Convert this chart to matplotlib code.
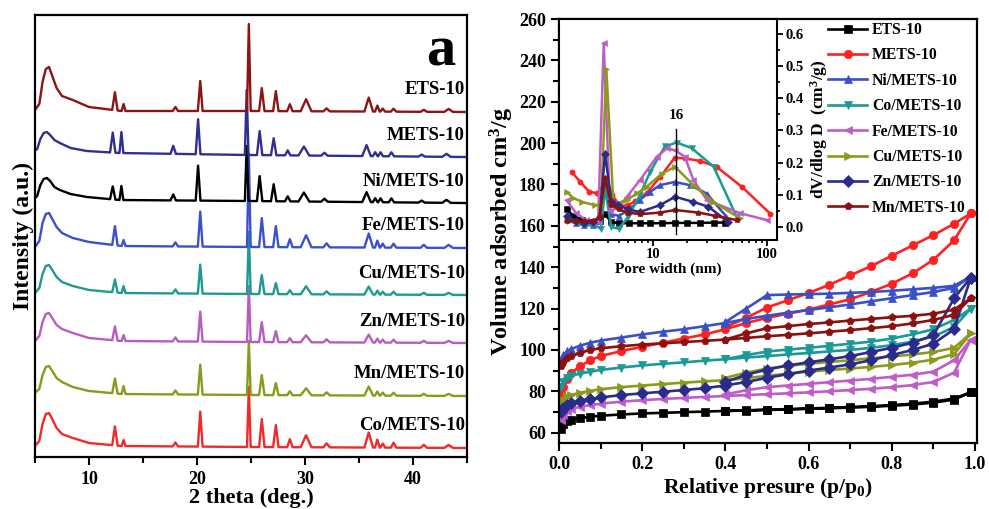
import numpy as np
import matplotlib
matplotlib.use('Agg')
import matplotlib.pyplot as plt
from matplotlib.ticker import MultipleLocator, LogLocator, NullFormatter, FixedLocator

plt.rcParams['font.family'] = 'Liberation Serif'
plt.rcParams['font.weight'] = 'bold'
plt.rcParams['axes.labelweight'] = 'bold'
plt.rcParams['mathtext.fontset'] = 'custom'
plt.rcParams['mathtext.rm'] = 'Liberation Serif:bold'
plt.rcParams['mathtext.it'] = 'Liberation Serif:bold:italic'
plt.rcParams['mathtext.bf'] = 'Liberation Serif:bold'

# ---------------- (a) XRD patterns ----------------
xrd_names = ['ETS-10', 'METS-10', 'Ni/METS-10', 'Fe/METS-10',
             'Cu/METS-10', 'Zn/METS-10', 'Mn/METS-10', 'Co/METS-10']
xrd_colors = ['#8b1515', '#2f2f8f', '#000000', '#3b50cc',
              '#1f9a92', '#b85cc0', '#8b9a1f', '#f02a2a']
xrd_offset = [345, 300, 254, 209, 162, 114, 61, 9]
xrd_shift = [0, -0.2, -0.2, 0, 0, 0, 0, 0]

# background (low-angle peak + tail), intensity above baseline
two_theta_bg = [5.0, 5.4, 5.7, 6.0, 6.3, 6.6, 7.0, 7.5, 8.5, 10.0, 13.0, 25.0, 45.0]
bg_ets = [2, 8, 30, 43, 45, 36, 24, 16, 12, 5, 1, 1, 0]
bg_mets = [5, 8, 18, 24, 25, 22, 17, 14, 9, 6, 4, 2, 0]
bg_ni = [3, 7, 18, 24, 25, 22, 16, 13, 9, 6, 3, 2, 0]
bg_fe = [1, 7, 25, 34, 35, 29, 21, 15, 10, 6, 2, 1, 0]
bg_cu = [2, 7, 21, 29, 30, 25, 18, 13, 9, 5, 2, 1, 0]
bg_zn = [2, 7, 21, 29, 30, 25, 18, 14, 10, 5, 2, 1, 0]
bg_mn = [3, 7, 21, 29, 30, 25, 18, 14, 9, 5, 2, 1, 0]
bg_co = [2, 7, 24, 34, 35, 29, 20, 14, 10, 5, 2, 1, 0]

# sharp reflections
peak_pos = [12.4, 13.2, 18.0, 20.3, 24.8, 26.0, 27.3, 28.6, 30.1, 32.0,
            35.9, 36.7, 37.2, 38.2, 41.0, 43.3]
peak_hw = [0.25, 0.18, 0.25, 0.22, 0.17, 0.25, 0.25, 0.25, 0.5, 0.3,
           0.4, 0.22, 0.22, 0.25, 0.3, 0.4]
h_ets = [18, 7, 4, 30, 87, 23, 20, 7, 12, 3, 14, 6, 3, 3, 2, 3]
h_mets = [20, 21, 8, 35, 65, 24, 17, 5, 9, 3, 11, 4, 4, 4, 2, 3]
h_ni = [13, 14, 6, 35, 55, 25, 17, 5, 9, 3, 10, 4, 4, 4, 2, 3]
h_fe = [19, 6, 4, 35, 93, 29, 21, 8, 12, 4, 14, 7, 4, 4, 3, 3]
h_cu = [13, 7, 4, 29, 62, 19, 11, 4, 8, 3, 8, 4, 3, 3, 2, 2]
h_zn = [14, 6, 4, 30, 56, 20, 11, 4, 7, 3, 8, 4, 3, 3, 2, 2]
h_mn = [15, 8, 4, 30, 54, 20, 12, 4, 7, 3, 9, 4, 3, 3, 2, 2]
h_co = [19, 6, 4, 35, 60, 28, 22, 8, 12, 4, 15, 8, 4, 5, 3, 3]

xrd_bg = [bg_ets, bg_mets, bg_ni, bg_fe, bg_cu, bg_zn, bg_mn, bg_co]
xrd_h = [h_ets, h_mets, h_ni, h_fe, h_cu, h_zn, h_mn, h_co]

# ---------------- (b) N2 isotherms ----------------
iso_names = ['ETS-10', 'METS-10', 'Ni/METS-10', 'Co/METS-10',
             'Fe/METS-10', 'Cu/METS-10', 'Zn/METS-10', 'Mn/METS-10']
iso_colors = ['#000000', '#ff2020', '#3a50c8', '#1a9a96',
              '#c05cc8', '#8b9a1a', '#2b2b8c', '#8b1010']
iso_markers = ['s', 'o', '^', 'v', '<', '>', 'D', 'p']

p_ads = [0.005, 0.01, 0.02, 0.03, 0.05, 0.075, 0.1, 0.15, 0.2, 0.25, 0.3, 0.35,
         0.4, 0.45, 0.5, 0.55, 0.6, 0.65, 0.7, 0.75, 0.8, 0.85, 0.9, 0.95, 0.99]
p_des = [0.99, 0.95, 0.9, 0.85, 0.8, 0.75, 0.7, 0.65, 0.6, 0.55, 0.5, 0.45, 0.4]

ads_ets = [62, 64, 65.5, 66.3, 67, 67.7, 68.2, 68.8, 69.3, 69.6, 69.9, 70.2, 70.5,
           70.7, 71, 71.2, 71.5, 71.8, 72.1, 72.5, 73, 73.6, 74.5, 76, 79.5]
des_ets = [79.5, 76.5, 75, 74, 73.3, 72.8, 72.4, 72, 71.7, 71.4, 71.1, 70.8, 70.5]
ads_mets = [79, 82, 86, 89, 92, 95, 97, 99.5, 101.5, 103.5, 105.5, 107.5, 110,
            113, 115.5, 117.5, 119.5, 122, 124.5, 128, 132, 137, 143.5, 153, 166]
des_mets = [166, 161, 155.5, 150.5, 145.5, 140.5, 136, 131.5, 127.5, 124, 120.5, 115.5, 111]
ads_ni = [95, 97.5, 99.5, 100.5, 102, 103.5, 104.5, 106, 107.5, 108.8, 110, 111.5, 113,
          115, 116.5, 118, 119.3, 120.6, 122, 123.5, 125, 126.5, 128, 130, 135.5]
des_ni = [135.5, 131, 130, 129.3, 128.6, 128, 127.6, 127.2, 127, 126.8, 126.5, 120, 113.5]
ads_co = [82, 84.5, 86.5, 87.5, 88.5, 89.5, 90.3, 91.5, 92.5, 93.3, 94, 94.8, 95.5,
          96.3, 97, 97.8, 98.5, 99.3, 100, 101, 102.3, 104, 106.5, 111, 120]
des_co = [120, 114.5, 110, 107.5, 105.5, 104, 103, 102, 101, 100.2, 99.2, 97.5, 95.5]
ads_fe = [66, 68.5, 70.5, 71.5, 72.5, 73.3, 74, 75, 75.7, 76.3, 76.8, 77.3, 77.7,
          78.2, 78.6, 79, 79.5, 80, 80.6, 81.2, 82, 83, 84.5, 89, 105]
des_fe = [105, 95, 89.5, 88, 87, 86, 85.2, 84.4, 83.6, 82.8, 82, 80.5, 78.5]
ads_cu = [74, 76, 77.5, 78.3, 79.3, 80.2, 81, 82, 82.8, 83.5, 84.2, 84.8, 85.4,
          86.3, 87.5, 88.5, 89.5, 90.3, 91, 91.8, 92.7, 93.8, 95.3, 98, 108]
des_cu = [108, 101, 99, 97.8, 96.8, 96, 95, 94.2, 93.3, 92.3, 91, 89, 86.5]
ads_zn = [70, 72, 73.5, 74.5, 75.5, 76.3, 77, 78.2, 79, 79.8, 80.6, 81.5, 82.8,
          84.5, 86.5, 88.3, 90, 91.5, 93, 95, 97.5, 100, 103, 110, 135]
des_zn = [135, 125, 107, 103.5, 101, 99, 97, 95.5, 94, 92.5, 90.5, 88, 84.5]
ads_mn = [92, 94, 96, 97, 98.5, 100, 100.8, 101.8, 102.6, 103.2, 103.8, 104.4, 105,
          105.8, 106.6, 107.3, 108, 108.8, 109.6, 110.5, 111.5, 112.8, 114.5, 117, 125]
des_mn = [125, 119.5, 117.5, 116.5, 115.8, 115, 114.2, 113.3, 112.5, 111.5, 110.5, 108, 105]

iso_ads = [ads_ets, ads_mets, ads_ni, ads_co, ads_fe, ads_cu, ads_zn, ads_mn]
iso_des = [des_ets, des_mets, des_ni, des_co, des_fe, des_cu, des_zn, des_mn]

# ---------------- (b) inset: pore size distribution ----------------
d_ets = [1.75, 2.0, 2.4, 2.9, 3.4, 3.8, 4.3, 5.0, 6.2, 7.7, 9.5, 12, 15.5, 20, 26, 34, 43]
v_ets = [0.055, 0.035, 0.022, 0.016, 0.018, 0.04, 0.016, 0.012, 0.012, 0.012, 0.012,
         0.012, 0.013, 0.013, 0.013, 0.014, 0.014]
d_mets = [1.95, 2.3, 2.75, 3.2, 3.6, 3.9, 4.4, 5.1, 6.0, 7.0, 8.8, 11.5, 15.5, 19, 25.8, 36, 60, 106]
v_mets = [0.17, 0.14, 0.11, 0.105, 0.12, 0.15, 0.1, 0.065, 0.068, 0.08, 0.105, 0.155,
          0.215, 0.213, 0.205, 0.187, 0.125, 0.042]
d_ni = [1.75, 2.1, 2.5, 3.0, 3.4, 3.8, 4.3, 5.0, 6.0, 7.7, 9.5, 11.5, 15.5, 21, 29.6, 44]
v_ni = [0.025, 0.012, 0.005, 0.006, 0.02, 0.15, 0.04, 0.035, 0.05, 0.085, 0.11, 0.13,
        0.14, 0.13, 0.104, 0.032]
d_co = [1.75, 2.1, 2.5, 3.0, 3.5, 3.8, 4.3, 5.0, 6.0, 7.7, 9.4, 12.7, 16.1, 21.8, 34, 54]
v_co = [0.02, 0.012, 0.008, 0.008, -0.005, 0.12, 0.0, -0.005, 0.03, 0.1, 0.17, 0.25,
        0.262, 0.245, 0.187, 0.032]
d_fe = [1.75, 2.1, 2.6, 3.3, 3.7, 4.2, 5.0, 5.9, 7.7, 10.8, 13.2, 15.6, 19, 22.6, 29.6, 58, 99]
v_fe = [0.083, 0.045, 0.021, 0.015, 0.57, 0.05, 0.06, 0.094, 0.146, 0.218, 0.244, 0.238,
        0.218, 0.146, 0.084, 0.043, 0.022]
d_cu = [1.75, 2.0, 2.4, 3.1, 3.5, 3.9, 4.5, 5.9, 7.3, 8.8, 12, 15.6, 22.6, 33.8, 58]
v_cu = [0.109, 0.09, 0.078, 0.068, 0.07, 0.49, 0.07, 0.084, 0.105, 0.125, 0.166, 0.187,
        0.13, 0.078, 0.027]
d_zn = [1.75, 2.1, 2.5, 3.0, 3.4, 3.8, 4.3, 4.9, 6.0, 7.7, 11.5, 15.6, 22.6, 30.6, 45.6]
v_zn = [0.035, 0.02, 0.012, 0.015, 0.03, 0.228, 0.08, 0.07, 0.055, 0.047, 0.068, 0.094,
        0.078, 0.063, 0.016]
d_mn = [1.75, 2.1, 2.5, 3.0, 3.4, 3.8, 4.3, 5.0, 6.0, 7.7, 11.5, 15.6, 25, 35, 54]
v_mn = [0.02, 0.018, 0.018, 0.02, 0.03, 0.151, 0.07, 0.055, 0.045, 0.04, 0.045, 0.053,
        0.045, 0.035, 0.022]

psd_d = [d_ets, d_mets, d_ni, d_co, d_fe, d_cu, d_zn, d_mn]
psd_v = [v_ets, v_mets, v_ni, v_co, v_fe, v_cu, v_zn, v_mn]


def xrd_trace(bg, heights):
    xs = list(two_theta_bg)
    ys = list(bg)
    for p, w, h in zip(peak_pos, peak_hw, heights):
        for x, extra in ((p - w, 0), (p, h), (p + w, 0)):
            xs.append(x)
            ys.append(np.interp(x, two_theta_bg, bg) + extra)
    order = np.argsort(xs)
    return np.array(xs)[order], np.array(ys)[order]


W, H = 989, 509
fig = plt.figure(figsize=(W / 100, H / 100), dpi=100)

def box(l, t, r, b):
    return [l / W, 1 - b / H, (r - l) / W, (b - t) / H]

# ---------- panel a ----------
ax_a = fig.add_axes(box(35, 15, 467, 457))
for i in reversed(range(len(xrd_names))):
    x, y = xrd_trace(xrd_bg[i], xrd_h[i])
    ax_a.plot(x + xrd_shift[i], y + xrd_offset[i], color=xrd_colors[i], lw=1.7,
              solid_joinstyle='round')
    ax_a.text(44.8, xrd_offset[i] + 22, xrd_names[i], ha='right', va='center',
              fontsize=13.5)
ax_a.set_xlim(5, 45)
ax_a.set_ylim(0, 442)
ax_a.set_yticks([])
ax_a.xaxis.set_major_locator(FixedLocator([10, 20, 30, 40]))
ax_a.xaxis.set_minor_locator(MultipleLocator(5))
ax_a.tick_params(axis='x', which='major', direction='out', length=6, width=1.5,
                 labelsize=13, pad=4)
ax_a.tick_params(axis='x', which='minor', direction='out', length=4, width=1.5)
for s in ax_a.spines.values():
    s.set_linewidth(1.6)
ax_a.set_xlabel('2 theta (deg.)', fontsize=16, labelpad=0)
ax_a.set_ylabel('Intensity (a.u.)', fontsize=17, labelpad=1)
fig.text(441 / W, 1 - 65 / H, 'a', fontsize=42, ha='center', va='baseline')

# ---------- panel b ----------
ax_b = fig.add_axes(box(559, 19, 977, 443))
handles = []
for i in range(len(iso_names)):
    ln, = ax_b.plot(p_ads + p_des, iso_ads[i] + iso_des[i], color=iso_colors[i],
                    marker=iso_markers[i], markersize=6, lw=1.9,
                    markeredgewidth=0.5, label=iso_names[i])
    handles.append(ln)
ax_b.set_xlim(0, 1.005)
ax_b.set_ylim(55, 260)
ax_b.xaxis.set_major_locator(MultipleLocator(0.2))
ax_b.xaxis.set_minor_locator(MultipleLocator(0.1))
ax_b.yaxis.set_major_locator(MultipleLocator(20))
ax_b.yaxis.set_minor_locator(MultipleLocator(10))
ax_b.xaxis.set_major_formatter(plt.FuncFormatter(lambda v, _: f'{v:.1f}'))
ax_b.tick_params(which='major', direction='out', length=6, width=1.5, labelsize=13)
ax_b.tick_params(which='minor', direction='out', length=4, width=1.5)
for s in ax_b.spines.values():
    s.set_linewidth(1.6)
ax_b.set_xlabel('Relative presure (p/p$_0$)', fontsize=15.5, labelpad=2)
ax_b.set_ylabel('Volume adsorbed cm$^3$/g', fontsize=17.5, labelpad=2)

fig.legend(handles, iso_names, loc='upper left', bbox_to_anchor=(828 / W, 1 - 22 / H),
           frameon=False, fontsize=11.3, handlelength=2.5, handletextpad=0.3,
           labelspacing=0.6, borderpad=0, borderaxespad=0)

# ---------- inset ----------
ax_in = fig.add_axes(box(559, 19, 777, 240))
for i in range(len(iso_names)):
    ax_in.plot(psd_d[i], psd_v[i], color=iso_colors[i], marker=iso_markers[i],
               markersize=3.8, lw=1.8, markeredgewidth=0.4)
ax_in.plot([16, 16], [-0.02, 0.305], color='black', lw=1)
ax_in.text(16, 0.345, '16', ha='center', va='center', fontsize=11)
ax_in.set_xscale('log')
ax_in.set_xlim(1.5, 122)
ax_in.set_ylim(-0.04, 0.645)
ax_in.xaxis.set_major_locator(FixedLocator([10, 100]))
ax_in.xaxis.set_major_formatter(plt.FuncFormatter(lambda v, _: f'{v:g}'))
ax_in.xaxis.set_minor_locator(LogLocator(base=10, subs=np.arange(2, 10)))
ax_in.xaxis.set_minor_formatter(NullFormatter())
ax_in.yaxis.tick_right()
ax_in.yaxis.set_label_position('right')
ax_in.yaxis.set_major_locator(MultipleLocator(0.1))
ax_in.yaxis.set_minor_locator(MultipleLocator(0.05))
ax_in.yaxis.set_major_formatter(plt.FuncFormatter(lambda v, _: f'{v:.1f}'))
ax_in.tick_params(which='major', direction='out', length=4, width=1.3,
                  labelsize=10.5, pad=2)
ax_in.tick_params(which='minor', direction='out', length=2.5, width=1.2)
for s in ax_in.spines.values():
    s.set_linewidth(1.5)
ax_in.set_xlabel('Pore width (nm)', fontsize=11, labelpad=1)
ax_in.set_ylabel('dV/dlog D  (cm$^3$/g)', fontsize=12.5, labelpad=3)

fig.savefig('out.png', dpi=100)
